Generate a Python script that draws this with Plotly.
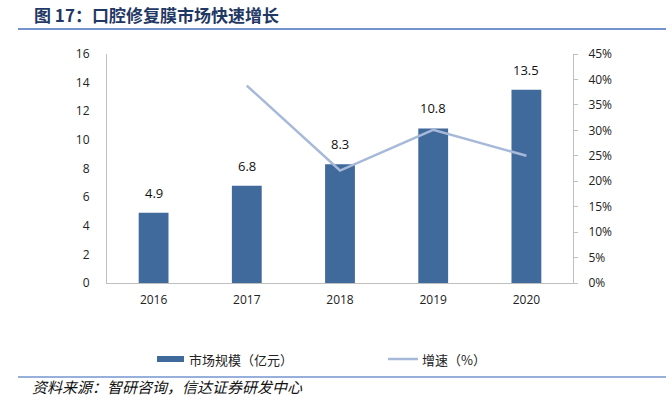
import plotly.graph_objects as go

years = ["2016", "2017", "2018", "2019", "2020"]
market_size = [4.9, 6.8, 8.3, 10.8, 13.5]
growth_years = ["2017", "2018", "2019", "2020"]
growth_rate = [0.388, 0.221, 0.301, 0.250]

title_text = "图 17：口腔修复膜市场快速增长"
source_text = "资料来源：智研咨询，信达证券研发中心"
bar_name = "市场规模（亿元）"
line_name = "增速（%）"

BAR_COLOR = "#40699C"
LINE_COLOR = "#A6B9D8"
AXIS_COLOR = "#BFBFBF"
TICK_FONT = dict(family="Open Sans, Noto Sans CJK SC", size=12, color="#222222")

fig = go.Figure()
fig.add_trace(go.Bar(
    x=years, y=market_size, name=bar_name, marker_color=BAR_COLOR,
    marker_line_width=0, width=0.32, showlegend=False, yaxis="y",
))
fig.add_trace(go.Scatter(
    x=growth_years, y=growth_rate, name=line_name, mode="lines",
    line=dict(color=LINE_COLOR, width=2.5), showlegend=False, yaxis="y2",
))

# value labels above bars
for i, v in enumerate(market_size):
    fig.add_annotation(x=i, y=v, xref="x", yref="y", text=f"{v:.1f}",
                       showarrow=False, yanchor="bottom", yshift=9,
                       font=dict(family="Open Sans", size=13, color="#111111"))

fig.update_layout(
    width=666, height=398,
    margin=dict(l=107, r=93, t=54, b=115),
    paper_bgcolor="white", plot_bgcolor="white",
    xaxis=dict(type="category", categoryorder="array", categoryarray=years,
               showline=True, linecolor=AXIS_COLOR, linewidth=1, ticks="",
               showgrid=False, tickfont=TICK_FONT, ticklabelstandoff=6),
    yaxis=dict(range=[0, 16], dtick=2, showline=True, linecolor=AXIS_COLOR,
               linewidth=1, ticks="", showgrid=False, zeroline=False,
               tickfont=TICK_FONT, ticklabelstandoff=14),
    yaxis2=dict(range=[0, 0.45], dtick=0.05, tickformat=".0%", overlaying="y",
                side="right", showline=True, linecolor=AXIS_COLOR, linewidth=1,
                ticks="outside", ticklen=4, tickcolor=AXIS_COLOR, showgrid=False,
                zeroline=False, tickfont=TICK_FONT, ticklabelstandoff=8),
)

def py(pix):
    return 1 - (pix - 54) / 229

def px(pix):
    return (pix - 107) / 466

# title and rule
fig.add_annotation(xref="paper", yref="paper", x=px(32), y=py(15),
                   xanchor="left", yanchor="middle", showarrow=False,
                   text=f"<b>{title_text}</b>",
                   font=dict(family="Noto Sans CJK SC", size=17, color="#1F3864"))
fig.add_shape(type="line", xref="paper", yref="paper",
              x0=px(18), x1=px(666), y0=py(29), y1=py(29),
              line=dict(color="#7394CF", width=2))

# legend (custom)
fig.add_shape(type="rect", xref="paper", yref="paper",
              x0=px(157), x1=px(184), y0=py(362), y1=py(356),
              fillcolor=BAR_COLOR, line=dict(width=0))
fig.add_annotation(xref="paper", yref="paper", x=px(187), y=py(359),
                   xanchor="left", yanchor="middle", showarrow=False, text=bar_name,
                   font=dict(family="Noto Sans CJK SC", size=13, color="#222222"))
fig.add_shape(type="line", xref="paper", yref="paper",
              x0=px(388), x1=px(418), y0=py(359), y1=py(359),
              line=dict(color=LINE_COLOR, width=2.5))
fig.add_annotation(xref="paper", yref="paper", x=px(420), y=py(359),
                   xanchor="left", yanchor="middle", showarrow=False, text=line_name,
                   font=dict(family="Noto Sans CJK SC", size=13, color="#222222"))

# footer rule and source
fig.add_shape(type="line", xref="paper", yref="paper",
              x0=px(18), x1=px(666), y0=py(377), y1=py(377),
              line=dict(color="#7394CF", width=1.5))
fig.add_annotation(xref="paper", yref="paper", x=px(30), y=py(386),
                   xanchor="left", yanchor="middle", showarrow=False,
                   text=f"<i>{source_text}</i>",
                   font=dict(family="Noto Sans CJK SC", size=15, color="#111111",
                             style="italic"))

fig.write_html("out.html", config={"displayModeBar": False},
               post_script="document.body.style.margin='0';")
